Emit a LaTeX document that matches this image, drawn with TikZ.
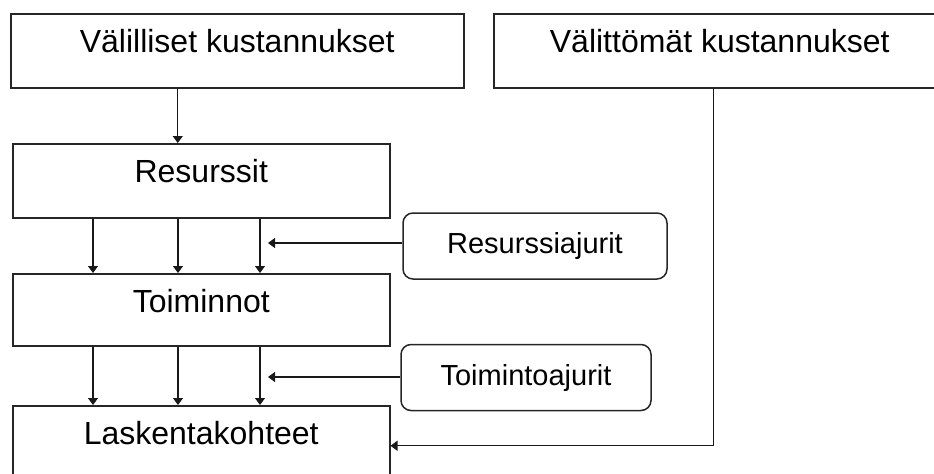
\documentclass[tikz,border=0pt]{standalone}
\usepackage{fontspec}
\setmainfont{Liberation Sans}
\usetikzlibrary{arrows.meta, positioning, calc}

\begin{document}
\begin{tikzpicture}[
  x=0.5pt, y=-0.5pt,
  box/.style={draw=black!85, line width=0.75pt, anchor=north west, inner sep=0pt,
    text height=19.5pt, text depth=17.5pt, font=\fontsize{16}{19}\selectfont},
  driver/.style={draw=black!85, line width=0.75pt, rounded corners=5pt, inner sep=0pt,
    minimum height=33pt, font=\fontsize{14.5}{17}\selectfont},
  arrow/.style={-{Triangle[length=3.5pt, width=5pt]}, line width=0.55pt, black!90}
]
\path[use as bounding box, clip] (0,0) rectangle (934,473);

\node[box, minimum width=226.5pt] (vl) at (10,13) {Välilliset kustannukset};
\node[box, minimum width=226pt] (vt) at (493,13) {Välittömät kustannukset};
\node[box, minimum width=188.5pt] (res) at (12,143) {Resurssit};
\node[box, minimum width=188.5pt, text depth=16.5pt] (toim) at (12,273) {Toiminnot};
\node[box, minimum width=188.5pt] (lask) at (12,405) {Laskentakohteet};
\node[driver, minimum width=132pt] (rajur) at (535,246) {Resurssiajurit};
\node[driver, minimum width=125pt] (tajur) at (526,377.5) {Toimintoajurit};

\coordinate (rtip) at (268,243);
\coordinate (ttip) at (268,377);

\draw[arrow] ([xshift=-29.75pt]vl.south) -- ([xshift=-29.75pt]vl.south |- res.north);
\foreach \dx in {40.5, 83, 124} {
  \draw[arrow] ([xshift=\dx pt]res.south west) -- ([xshift=\dx pt]toim.north west);
  \draw[arrow] ([xshift=\dx pt]toim.south west) -- ([xshift=\dx pt]lask.north west);
}
\draw[arrow] (rajur.west |- rtip) -- (rtip);
\draw[arrow] (tajur.west |- ttip) -- (ttip);
\draw[arrow] ([xshift=-3pt]vt.south) |- ([yshift=-1.5pt]lask.east);

\end{tikzpicture}
\end{document}
